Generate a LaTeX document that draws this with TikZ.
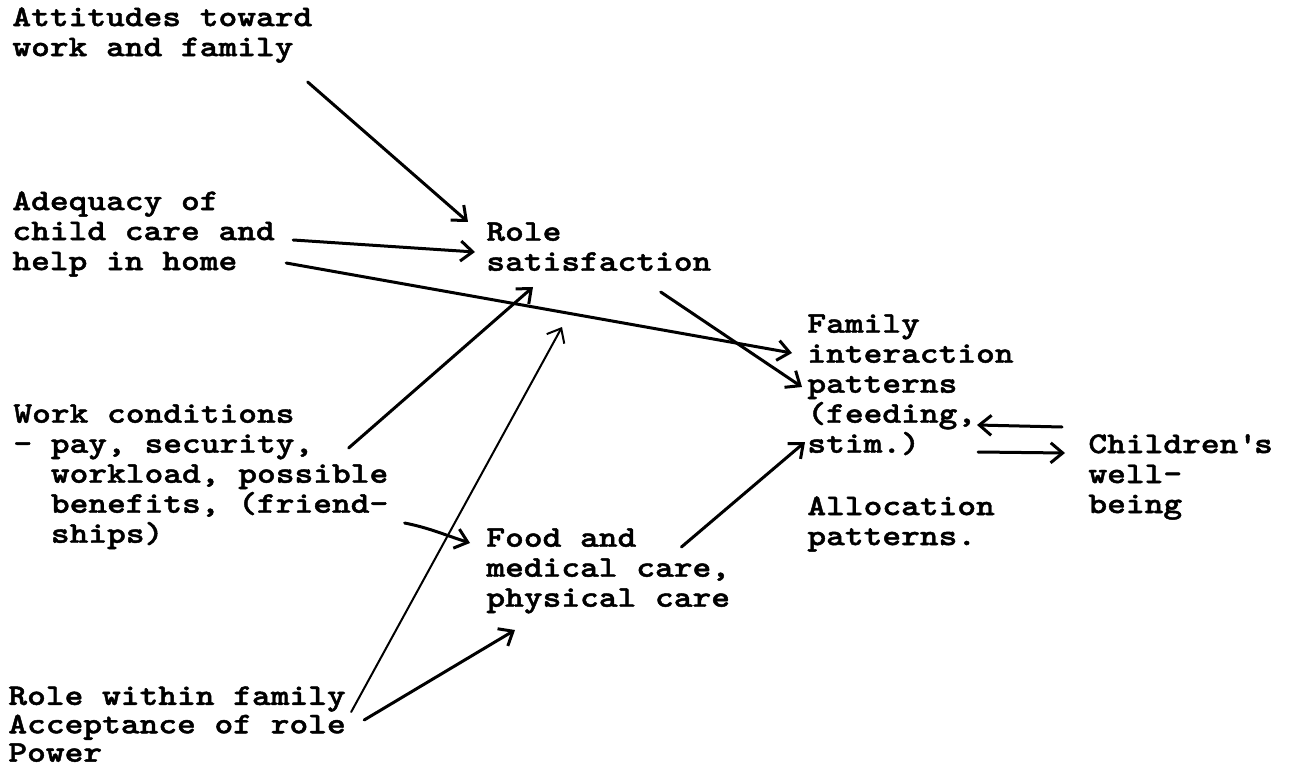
\documentclass[tikz,border=0pt]{standalone}
\usepackage{fontspec}
\newfontfamily\typefont{lmmonolt10-bold.otf}[FakeStretch=1.19,FakeBold=1.5]
\usetikzlibrary{arrows.meta}
\newcommand{\ind}{\phantom{-x}}
\newcommand{\typew}[1]{\typefont\fontsize{15}{#1}\selectfont\setlength{\lineskiplimit}{-20pt}}
\begin{document}
\begin{tikzpicture}[x=0.5pt,y=-0.5pt,>={Straight Barb[length=6pt,width=10pt]},
  factor/.style={anchor=north west,inner sep=0pt,align=left,
    font=\typew{15},execute at begin node=\strut},
  link/.style={->,line width=1.5pt,line cap=round}]
\useasboundingbox (0,0) rectangle (1290,770);
\node[factor] (att) at (12,7) {Attitudes toward\\work and family};
\node[factor] (ade) at (12,191) {Adequacy of\\child care and\\help in home};
\node[factor] (role) at (486,222) {Role\\satisfaction};
\node[factor] (fam) at (807,314) {Family\\interaction\\patterns\\(feeding,\\stim.)};
\node[factor] (alloc) at (807,496) {Allocation\\patterns.};
\node[factor] (kid) at (1088,434) {Children\textquotesingle s\\well-\\being};
\node[factor] (wrk) at (13,404) {Work conditions\\- pay, security,\\\ind workload, possible\\\ind benefits, (friend-\\\ind ships)};
\node[factor] (food) at (486,528) {Food and\\medical care,\\physical care};
\node[factor,font=\typew{14.2}] (rwf) at (8,686) {Role within family\\Acceptance of role\\Power};
\draw[link] ([shift={(-5,75)}]att.north east) -- ([shift={(-18,0)}]role.north west);
\draw[link] ([shift={(18,49)}]ade.north east) -- ([shift={(-11,30)}]role.north west);
\draw[link] ([shift={(11,72)}]ade.north east) -- ([shift={(-15,39)}]fam.north west);
\draw[link] ([shift={(-40,44)}]wrk.north east) -- ([shift={(47,65)}]role.north west);
\draw[link] ([shift={(16,119)}]wrk.north east) .. controls +(25,5) and +(-25,-8) .. ([shift={(-16,15)}]food.north west);
\draw[link,line width=1pt] ([shift={(5,26)}]rwf.north east) -- ([shift={(76,105)}]role.north west);
\draw[link] ([shift={(18,34)}]rwf.north east) -- ([shift={(29,102)}]food.north west);
\draw[link] ([shift={(-49,19)}]food.north east) -- ([shift={(-2,128)}]fam.north west);
\draw[link] ([shift={(-51,70)}]role.north east) -- ([shift={(-5,73)}]fam.north west);
\draw[link] ([shift={(-26,-7)}]kid.north west) -- ([shift={(170,111)}]fam.north west);
\draw[link] ([shift={(171,138)}]fam.north west) -- ([shift={(-23,19)}]kid.north west);
\end{tikzpicture}
\end{document}
